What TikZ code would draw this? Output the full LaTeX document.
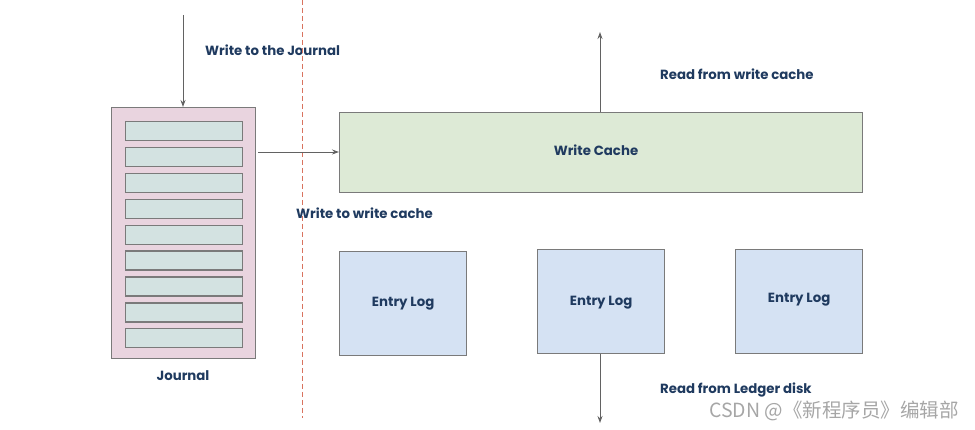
\documentclass[tikz,border=0pt]{standalone}
\usepackage{fontspec}
\setmainfont{Poppins}
\newfontfamily\cjkfont{Noto Sans CJK SC}
\usetikzlibrary{arrows.meta}
\definecolor{txt}{HTML}{1F3A5F}
\definecolor{edge}{HTML}{7A7A7A}
\definecolor{jfill}{HTML}{E9D4DF}
\definecolor{sfill}{HTML}{D3E2E1}
\definecolor{wfill}{HTML}{DDEAD6}
\definecolor{efill}{HTML}{D5E2F3}
\definecolor{divred}{HTML}{D9735F}
\tikzset{
  box/.style={draw=edge, line width=1.3pt, inner sep=0pt, anchor=north west},
  slot/.style={draw=edge, line width=1.3pt, fill=sfill, minimum width=117pt, minimum height=19pt, inner sep=0pt, anchor=north west},
  lbl/.style={text=txt, font=\fontsize{13.3}{15}\selectfont\bfseries, inner sep=0pt},
  arr/.style={draw=edge!80!black, line width=0.9pt, -{Stealth[length=7pt,width=5pt]}},
}
\begin{document}
\begin{tikzpicture}[x=1pt,y=-1pt]
\useasboundingbox (0,0) rectangle (975,430);
% journal
\node[box, fill=jfill, minimum width=144pt, minimum height=251pt] (journal) at (111,107) {};
\foreach \i in {0,...,8}{
  \node[slot] (s\i) at (125,{121+25.9*\i}) {};
}
\node[lbl] (jl) at (183,376) {Journal};
\coordinate (jtop) at (183,15);
\draw[arr] (jtop) -- (journal.north -| jtop);
\node[lbl, anchor=west] (wj) at (205,50) {Write to the Journal};
% dashed divider
\coordinate (d1) at (302,0);
\coordinate (d2) at (302,418);
\draw[divred, line width=1pt, dash pattern=on 5pt off 3pt] (d1) -- (d2);
% write cache
\node[box, fill=wfill, minimum width=523pt, minimum height=80pt] (wc) at (339,112) {};
\node[lbl] (wct) at (596,150) {Write Cache};
\coordinate (jout) at (258,152);
\draw[arr] (jout) -- (wc.west |- jout);
\node[lbl, anchor=west] (wwc) at (296,213) {Write to write cache};
\coordinate (rtop) at (600,32);
\draw[arr] (wc.north -| rtop) -- (rtop);
\node[lbl, anchor=west] (rwc) at (660,74) {Read from write cache};
% entry logs
\node[box, fill=efill, minimum width=127pt, minimum height=104pt] (e1) at (339,251) {};
\node[box, fill=efill, minimum width=127pt, minimum height=104pt] (e2) at (537,249) {};
\node[box, fill=efill, minimum width=127pt, minimum height=104pt] (e3) at (735,249) {};
\node[lbl] at (e1.center) {Entry Log};
\node[lbl] at ([yshift=-1pt]e2.center) {Entry Log};
\node[lbl] at ([yshift=2pt]e3.center) {Entry Log};
\coordinate (rbot) at (600,423);
\draw[arr] (e2.south -| rbot) -- (rbot);
\node[lbl, anchor=west] (rld) at (660,390) {Read from Ledger disk};
% watermark
\node[anchor=west, text=black!35, font=\cjkfont\fontsize{19.5}{21}\selectfont, inner sep=0pt] (wm) at (709,411) {CSDN @《新程序员》编辑部};
\end{tikzpicture}
\end{document}
